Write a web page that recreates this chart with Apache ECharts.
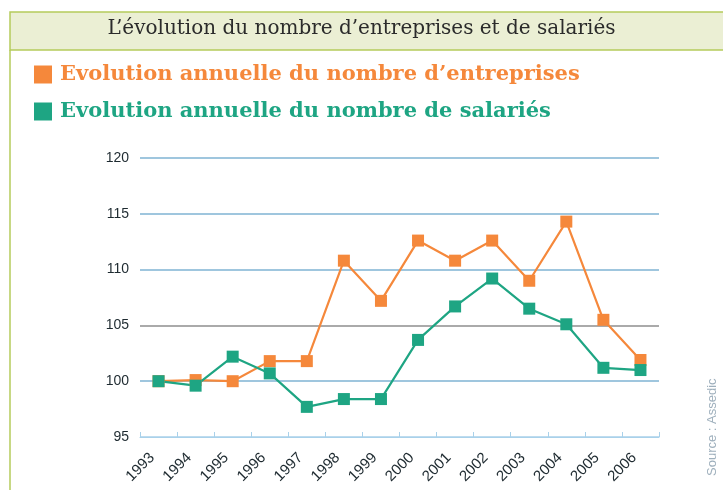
<!DOCTYPE html>
<html>
<head>
<meta charset="utf-8">
<script src="https://cdn.jsdelivr.net/npm/echarts@6/dist/echarts.min.js"></script>
<style>
  html, body { margin: 0; padding: 0; background: #fff; }
  #chart { width: 723px; height: 490px; }
</style>
</head>
<body>
<div id="chart"></div>
<script>
// années
const years = ['1993', '1994', '1995', '1996', '1997', '1998', '1999',
  '2000', '2001', '2002', '2003', '2004', '2005', '2006']
// indice base 100 en 1993
const entreprises = [100, 100.1, 100, 101.8, 101.8, 110.8, 107.2,
  112.6, 110.8, 112.6, 109.0, 114.3, 105.5, 101.9]
const salaries = [100, 99.6, 102.2, 100.7, 97.7, 98.4, 98.4,
  103.7, 106.7, 109.2, 106.5, 105.1, 101.2, 101.0]

const orange = '#f5883b'
const green = '#1ea583'

const chart = echarts.init(document.getElementById('chart'))

const option = {
  animation: false,
  textStyle: { fontFamily: 'Liberation Sans, Arial, sans-serif' },
  graphic: [
    { // bandeau du titre
      type: 'rect',
      shape: { x: 10, y: 12, width: 720, height: 38 },
      style: { fill: '#ebefd4', stroke: '#b5cb5b', lineWidth: 1.5 }
    },
    { // bord gauche du cadre
      type: 'line',
      shape: { x1: 10, y1: 50, x2: 10, y2: 495 },
      style: { stroke: '#b5cb5b', lineWidth: 1.5 }
    },
    {
      type: 'text',
      left: 'center',
      top: 19,
      style: {
        text: 'L\u2019évolution du nombre d\u2019entreprises et de salariés',
        fontFamily: 'DejaVu Serif',
        fontSize: 20,
        fill: '#2b2b2b'
      }
    },
    {
      type: 'text',
      x: 706,
      y: 476,
      rotation: Math.PI / 2,
      style: {
        text: 'Source : Assedic',
        fontFamily: 'Liberation Sans, Arial, sans-serif',
        fontSize: 13,
        fill: '#9fb0bd'
      }
    }
  ],
  legend: {
    orient: 'vertical',
    left: 29,
    top: 59,
    itemWidth: 18,
    itemHeight: 18,
    itemGap: 16,
    icon: 'rect',
    selectedMode: false,
    textStyle: {
      fontFamily: 'DejaVu Serif',
      fontWeight: 'bold',
      fontSize: 21,
      padding: [0, 0, 0, 3]
    },
    data: [
      { name: 'Evolution annuelle du nombre d\u2019entreprises', textStyle: { color: orange } },
      { name: 'Evolution annuelle du nombre de salariés', textStyle: { color: green } }
    ]
  },
  grid: {
    left: 140,
    right: 64,
    top: 158,
    bottom: 53,
    containLabel: false
  },
  xAxis: {
    type: 'category',
    data: years,
    boundaryGap: true,
    axisLine: { lineStyle: { color: '#a9d1ea', width: 1 } },
    axisTick: { show: true, inside: true, length: 5, lineStyle: { color: '#a9d1ea' } },
    axisLabel: {
      rotate: 45,
      margin: 12,
      fontSize: 15,
      color: '#1e2a30',
      padding: [0, 9, 0, 0],
      interval: 0
    }
  },
  yAxis: {
    type: 'value',
    min: 95,
    max: 120,
    interval: 5,
    axisLine: { show: false },
    axisTick: { show: false },
    axisLabel: { fontSize: 14, color: '#1e2a30', margin: 11 },
    splitLine: {
      lineStyle: {
        color: ['#a9d1ea', '#7fb3d3', '#8e8e8e', '#7fb3d3', '#7fb3d3', '#7fb3d3'],
        width: 1.5
      }
    }
  },
  series: [
    {
      name: 'Evolution annuelle du nombre d\u2019entreprises',
      type: 'line',
      data: entreprises,
      symbol: 'rect',
      symbolSize: 12,
      itemStyle: { color: orange },
      lineStyle: { color: orange, width: 2.2 }
    },
    {
      name: 'Evolution annuelle du nombre de salariés',
      type: 'line',
      data: salaries,
      symbol: 'rect',
      symbolSize: 12,
      itemStyle: { color: green },
      lineStyle: { color: green, width: 2.2 }
    }
  ]
}

chart.setOption(option)
</script>
</body>
</html>
